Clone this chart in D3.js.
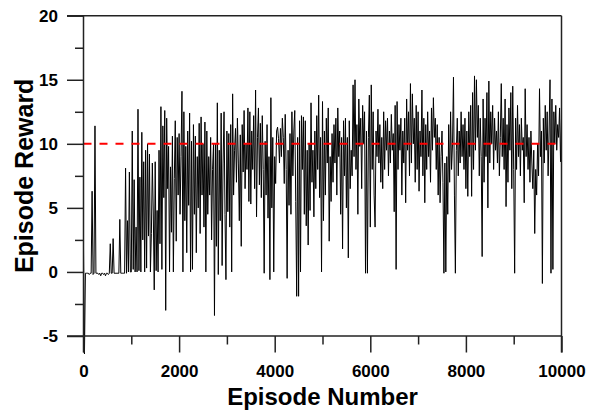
<!DOCTYPE html>
<html>
<head>
<meta charset="utf-8">
<script src="https://cdn.jsdelivr.net/npm/d3@7"></script>
<style>
  html, body { margin: 0; padding: 0; background: #fff; }
  svg { display: block; }
  text { font-family: "Liberation Sans", Arial, sans-serif; font-weight: bold; fill: #000; }
</style>
</head>
<body>
<svg id="chart" width="590" height="411"></svg>
<script>
// ---- data ----
const episodeStep = 20;               // one reading every 20 episodes
const rewards = [
  // 0 - 980
  1.8, -6.4, -0.1, -0.1, -0.1, -0.1, -0.2, -0.1, -0.1, 6.3,
  -0.2, -0.1, 11.4, -0.1, -0.1, -0.1, -0.2, -0.1, -0.3, -0.1,
  -0.1, -0.2, -0.1, -0.3, -0.1, -0.1, -0.2, -0.1, 2.2, -0.1,
  -0.1, 2.6, -0.1, -0.1, -0.1, -0.1, -0.1, -0.1, 4.1, -0.1,
  -0.1, -0.1, -0.1, -0.1, 8.1, -0.1, 4.0, 0.0, 7.8, 0.0,
  // 1000 - 1980
  0.0, 11.0, 0.2, 7.2, 0.0, 3.5, 0.0, 12.7, 0.1, 7.4,
  0.0, 10.9, 2.5, 8.6, 0.0, 9.5, 0.3, 10.0, 2.8, 9.2,
  0.0, 3.0, 8.5, 4.6, -1.4, 8.6, 0.1, 4.8, 0.0, 9.5,
  2.2, 12.9, 0.2, 11.4, 5.8, 12.6, -3.0, 12.0, 6.5, 9.8,
  0.0, 8.2, 3.1, 10.6, 0.0, 7.3, 11.8, 2.4, 10.5, 6.0,
  // 2000 - 2980
  10.8, 4.5, 9.0, 14.1, 0.0, 12.5, 4.0, 9.8, 1.5, 11.0,
  5.2, 12.4, 0.0, 10.2, 0.2, 11.5, 4.5, 10.6, 1.5, 9.0,
  5.0, 11.6, 3.0, 12.1, 6.0, 10.0, 3.5, 11.7, 0.0, 11.0,
  4.5, 9.0, 6.0, 10.5, 2.5, 8.0, 10.0, -3.4, 10.0, 2.0,
  13.2, -0.2, 9.5, 4.0, 12.4, 0.5, 8.5, 12.5, 4.5, -0.6,
  // 3000 - 3980
  11.0, 4.7, 10.8, 3.5, 11.5, 0.0, 13.9, 6.0, 9.5, 11.2,
  7.0, 12.0, 8.5, 4.0, 10.7, 2.0, 11.5, 7.8, 12.6, 6.5,
  10.0, 8.0, 12.8, 5.5, 12.5, 5.3, 11.0, 8.0, 12.2, 6.5,
  14.2, 4.3, 10.5, 12.8, 6.8, 11.6, 5.8, 12.2, 8.0, -0.1,
  10.2, 6.0, 11.5, 4.2, 9.0, -0.6, 13.6, 5.0, 10.5, 0.0,
  // 4000 - 4980
  9.0, 6.9, 11.0, 11.3, 10.4, 8.5, 11.2, 9.0, 12.0, 10.5,
  6.9, 12.3, 8.0, -0.5, 9.5, 5.2, 10.8, 4.5, 12.5, 7.5,
  11.0, 12.6, 5.5, -1.9, 10.5, -1.9, 11.8, 0.0, 12.2, 8.0,
  12.1, 4.5, 11.8, 3.6, 9.5, 2.1, 10.0, 4.8, 13.2, 7.0,
  9.5, 4.3, 11.0, 6.5, 12.2, 8.0, 13.8, 5.8, 10.5, 0.0,
  // 5000 - 5980
  13.3, 4.0, 11.0, 6.0, 12.0, 8.5, 12.8, 2.4, 9.0, 5.5,
  10.8, 7.0, 11.5, 8.5, 12.0, 6.0, 12.8, 9.0, 11.0, 4.5,
  10.5, 1.8, 11.8, 7.5, 12.0, 5.0, 10.5, 1.1, 11.8, 6.5,
  9.5, 7.5, 14.6, 9.0, 15.0, 8.0, 11.5, 4.5, 13.5, 9.8,
  12.0, 6.5, 13.0, 10.0, 12.5, -0.1, 11.0, -0.1, 10.5, 13.8,
  // 6000 - 6980
  3.5, 14.6, 8.0, 12.5, 6.0, 3.5, 11.0, 9.0, 12.7, 8.5,
  11.5, 7.0, 10.5, 6.5, 12.5, 8.0, 11.8, 9.5, 12.0, 7.5,
  11.0, 8.5, 12.3, 9.5, 10.8, 4.7, 13.0, 0.2, 13.3, 8.0,
  11.5, 9.5, 12.0, 6.0, 11.0, 8.5, 12.0, 5.4, 13.5, 9.5,
  12.5, 7.5, 14.7, 8.5, 13.9, 10.0, 12.0, 7.0, 13.0, 8.0,
  // 7000 - 7980
  12.5, 6.3, 11.0, 9.0, 14.2, 7.5, 12.0, 5.4, 11.5, 8.0,
  12.5, 9.0, 11.0, 7.0, 12.8, 9.5, 13.6, 10.5, 12.0, 8.0,
  11.5, 6.0, 10.5, 5.4, 9.0, 11.0, 7.0, -0.1, 8.5, 0.0,
  9.0, 4.5, 11.5, 7.0, 12.5, 8.0, 10.0, 15.2, 6.0, -0.1,
  9.5, 12.0, 7.5, 11.0, 8.5, 12.5, 9.0, 11.5, 8.0, 12.0,
  // 8000 - 8980
  6.5, 11.0, 5.9, 12.5, 9.0, 13.0, 5.9, 14.0, 8.0, 15.3,
  9.5, 15.0, 10.5, 13.0, 7.5, 12.0, 9.0, 1.2, 13.5, 7.0,
  12.0, 9.0, 14.0, 5.0, 14.9, 8.5, 12.5, 10.0, 13.0, 8.0,
  12.0, 9.5, 11.0, 8.5, 12.5, 7.5, 10.5, 14.7, 9.0, 12.0,
  8.0, 13.5, 5.1, 11.5, 7.0, 12.8, 9.5, 14.0, 6.5, 14.5,
  // 9000 - 10000
  8.0, -0.1, 12.0, 8.0, 13.0, 9.0, 11.5, 7.5, 12.0, 9.5,
  10.5, 5.4, 14.3, 9.0, 11.5, 8.0, 10.5, 7.0, 11.0, 8.5,
  6.5, 9.5, 3.0, 8.0, 6.0, 10.0, 7.5, 14.3, 9.0, 11.0,
  -0.9, 12.0, 8.5, 13.0, 9.5, 12.5, 7.5, 11.0, 15.0, -0.1,
  13.5, 0.2, 12.5, 10.0, 13.0, 9.5, 11.5, 10.5, 12.8, 8.6,
  12.0
];
const targetReward = 10;
const xTicksMajor = [0, 2000, 4000, 6000, 8000, 10000];
const xTicksMinor = [1000, 3000, 5000, 7000, 9000];
const yTicksMajor = [-5, 0, 5, 10, 15, 20];
const yTicksMinor = [-2.5, 2.5, 7.5, 12.5, 17.5];
const xLabel = "Episode Number";
const yLabel = "Episode Reward";

// ---- layout ----
const svg = d3.select("#chart");
const x = d3.scaleLinear().domain([0, 10000]).range([83.5, 561.5]);
const y = d3.scaleLinear().domain([-5, 20]).range([336, 15.7]);
const axisColor = "#222";
const majorLen = 16.5, minorLen = 8.5;
const plainFormat = d => String(d);   // ASCII hyphen for negatives, as in the reference

const points = rewards.map((r, i) => ({ ep: i * episodeStep, r }));

// data line
svg.append("path")
  .datum(points)
  .attr("fill", "none")
  .attr("stroke", "#000")
  .attr("stroke-width", 1)
  .attr("stroke-linejoin", "miter")
  .attr("d", d3.line().x(d => x(d.ep)).y(d => y(d.r)));

// target line
svg.append("line")
  .attr("x1", x(0)).attr("x2", x(10000))
  .attr("y1", y(targetReward)).attr("y2", y(targetReward))
  .attr("stroke", "#ff0000").attr("stroke-width", 2)
  .attr("stroke-dasharray", "8,8");

// y axis (left)
const yMajor = svg.append("g").attr("transform", `translate(${x(0)},0)`)
  .call(d3.axisLeft(y).tickValues(yTicksMajor).tickSize(majorLen).tickPadding(9).tickFormat(plainFormat));
const yMinor = svg.append("g").attr("transform", `translate(${x(0)},0)`)
  .call(d3.axisLeft(y).tickValues(yTicksMinor).tickSize(minorLen).tickFormat(""));

// x axis (bottom, at y = -5)
const xMajor = svg.append("g").attr("transform", `translate(0,${y(-5)})`)
  .call(d3.axisBottom(x).tickValues(xTicksMajor).tickSize(majorLen).tickFormat(plainFormat));
const xMinor = svg.append("g").attr("transform", `translate(0,${y(-5)})`)
  .call(d3.axisBottom(x).tickValues(xTicksMinor).tickSize(minorLen).tickFormat(""));

[yMajor, yMinor, xMajor, xMinor].forEach(g => {
  g.select(".domain").remove();
  g.selectAll(".tick line").attr("stroke", axisColor).attr("stroke-width", 1.5);
  g.selectAll(".tick text").attr("font-size", 17).attr("font-family", "'Liberation Sans', Arial, sans-serif")
    .attr("font-weight", "bold").attr("fill", "#000");
});
xMajor.selectAll(".tick text").attr("dy", null).attr("y", 41);

// frame
const frame = svg.append("g").attr("stroke", axisColor).attr("stroke-width", 1.5).attr("fill", "none");
frame.append("line").attr("x1", x(0) - majorLen).attr("x2", x(10000)).attr("y1", y(20)).attr("y2", y(20));
frame.append("line").attr("x1", x(0) - majorLen).attr("x2", x(10000)).attr("y1", y(-5)).attr("y2", y(-5));
frame.append("line").attr("x1", x(0)).attr("x2", x(0)).attr("y1", y(20)).attr("y2", y(-5) + majorLen);
frame.append("line").attr("x1", x(10000)).attr("x2", x(10000)).attr("y1", y(20)).attr("y2", y(-5) + majorLen);

// axis titles
svg.append("text")
  .attr("x", (x(0) + x(10000)) / 2).attr("y", 405)
  .attr("text-anchor", "middle").attr("font-size", 24)
  .text(xLabel);
svg.append("text")
  .attr("transform", `translate(33,${(y(20) + y(-5)) / 2}) rotate(-90)`)
  .attr("text-anchor", "middle").attr("font-size", 25)
  .text(yLabel);
</script>
</body>
</html>
